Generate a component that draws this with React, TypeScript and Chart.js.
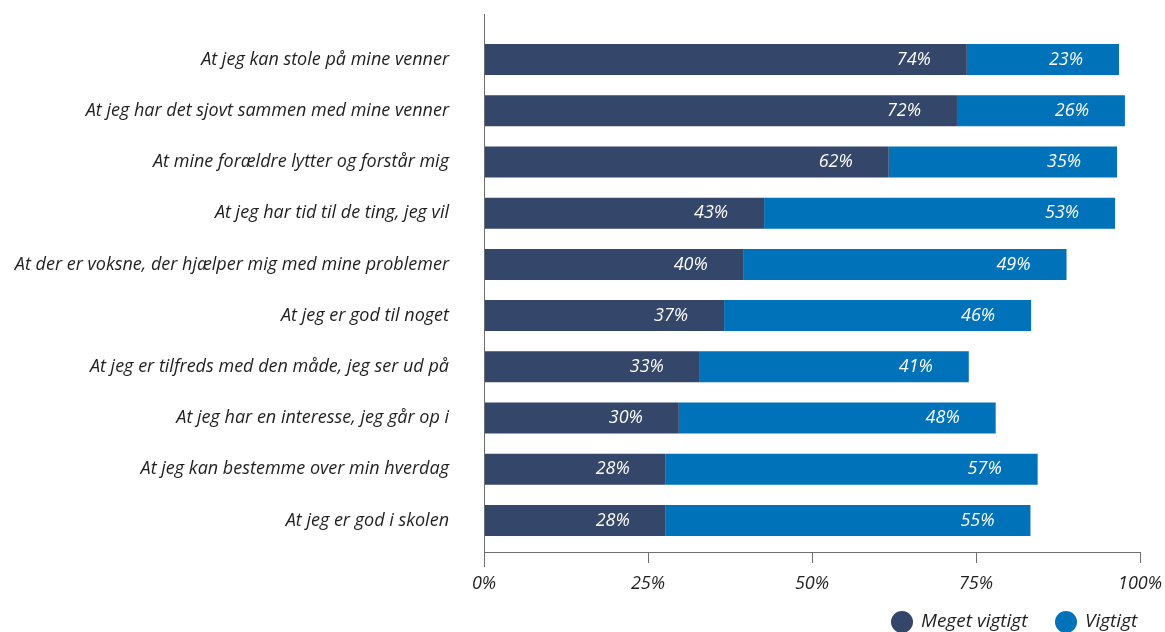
import React, { useEffect, useRef } from "react";
import { Chart, registerables } from "chart.js";

Chart.register(...registerables);

const categories = [
  "At jeg kan stole på mine venner",
  "At jeg har det sjovt sammen med mine venner",
  "At mine forældre lytter og forstår mig",
  "At jeg har tid til de ting, jeg vil",
  "At der er voksne, der hjælper mig med mine problemer",
  "At jeg er god til noget",
  "At jeg er tilfreds med den måde, jeg ser ud på",
  "At jeg har en interesse, jeg går op i",
  "At jeg kan bestemme over min hverdag",
  "At jeg er god i skolen",
];

const megetVigtigt = [73.6, 72.1, 61.7, 42.7, 39.6, 36.6, 32.9, 29.7, 27.7, 27.7];
const vigtigt = [23.2, 25.6, 34.8, 53.5, 49.2, 46.8, 41.0, 48.3, 56.7, 55.6];

const megetLabels = ["74%", "72%", "62%", "43%", "40%", "37%", "33%", "30%", "28%", "28%"];
const vigtigtLabels = ["23%", "26%", "35%", "53%", "49%", "46%", "41%", "48%", "57%", "55%"];

const seriesNames = ["Meget vigtigt", "Vigtigt"];
const xTickValues = [0, 25, 50, 75, 100];

const DARK = "#34466A";
const LIGHT = "#0072B9";
const FONT = "'Open Sans', sans-serif";

export default function App() {
  const ref = useRef<HTMLCanvasElement | null>(null);

  useEffect(() => {
    if (!ref.current) return;
    const labelsByDataset = [megetLabels, vigtigtLabels];

    const overlay = {
      id: "overlay",
      afterDraw(chart: any) {
        const { ctx, chartArea, scales } = chart;
        const xs = scales.x;
        const left = xs.getPixelForValue(0);
        const right = xs.getPixelForValue(100);
        const axisY = Math.round(chartArea.bottom) + 6;
        ctx.save();
        ctx.strokeStyle = "#6e6e6e";
        ctx.lineWidth = 1;
        ctx.beginPath();
        ctx.moveTo(Math.round(left) + 0.5, 14);
        ctx.lineTo(Math.round(left) + 0.5, 567);
        ctx.moveTo(left, axisY + 0.5);
        ctx.lineTo(right + 1, axisY + 0.5);
        xTickValues.forEach((v) => {
          const px = Math.round(xs.getPixelForValue(v)) + 0.5;
          ctx.moveTo(px, axisY);
          ctx.lineTo(px, axisY + 11);
        });
        ctx.stroke();

        // data labels
        ctx.fillStyle = "#ffffff";
        ctx.font = `italic 18px ${FONT}`;
        ctx.textAlign = "center";
        ctx.textBaseline = "middle";
        chart.data.datasets.forEach((_: any, di: number) => {
          const meta = chart.getDatasetMeta(di);
          meta.data.forEach((el: any, i: number) => {
            ctx.fillText(labelsByDataset[di][i], el.x - 53, el.y);
          });
        });

        // legend
        const legendY = 622;
        const items = [
          { x: 902, color: DARK, text: seriesNames[0] },
          { x: 1066, color: LIGHT, text: seriesNames[1] },
        ];
        ctx.textAlign = "left";
        ctx.textBaseline = "middle";
        ctx.font = `italic 19px ${FONT}`;
        items.forEach((it) => {
          ctx.fillStyle = it.color;
          ctx.beginPath();
          ctx.arc(it.x, legendY, 11, 0, Math.PI * 2);
          ctx.fill();
          ctx.fillStyle = "#1f1f1f";
          ctx.fillText(it.text, it.x + 19, legendY);
        });
        ctx.restore();
      },
    };

    const chart = new Chart(ref.current, {
      type: "bar",
      data: {
        labels: categories,
        datasets: [
          {
            label: seriesNames[0],
            data: megetVigtigt,
            backgroundColor: DARK,
            barPercentage: 0.605,
            categoryPercentage: 1,
          },
          {
            label: seriesNames[1],
            data: vigtigt,
            backgroundColor: LIGHT,
            barPercentage: 0.605,
            categoryPercentage: 1,
          },
        ],
      },
      options: {
        indexAxis: "y",
        responsive: false,
        animation: false,
        layout: { padding: { top: 34, right: 25, left: 0, bottom: 0 } },
        plugins: {
          legend: { display: false },
          tooltip: { enabled: false },
        },
        scales: {
          x: {
            stacked: true,
            min: 0,
            max: 100,
            afterBuildTicks(scale: any) {
              scale.ticks = xTickValues.map((v) => ({ value: v }));
            },
            afterFit(scale: any) {
              scale.height = 86;
              scale.paddingLeft = 0;
              scale.paddingRight = 0;
            },
            grid: { display: false, drawTicks: false },
            border: { display: false },
            ticks: {
              padding: 27,
              color: "#1f1f1f",
              font: { family: FONT, size: 18, style: "italic" },
              callback: (v: any) => `${v}%`,
              maxRotation: 0,
            },
          },
          y: {
            stacked: true,
            afterFit(scale: any) {
              scale.width = 484;
              scale.paddingTop = 0;
              scale.paddingBottom = 0;
            },
            grid: { display: false, drawTicks: false },
            border: { display: false },
            ticks: {
              padding: 35,
              color: "#1f1f1f",
              font: { family: FONT, size: 18, style: "italic" },
              autoSkip: false,
            },
          },
        },
      },
      plugins: [overlay],
    });
    return () => chart.destroy();
  }, []);

  return (
    <div style={{ position: "absolute", left: 0, top: 0, width: 1165, height: 632 }}>
      <canvas ref={ref} width={1165} height={632} />
    </div>
  );
}
